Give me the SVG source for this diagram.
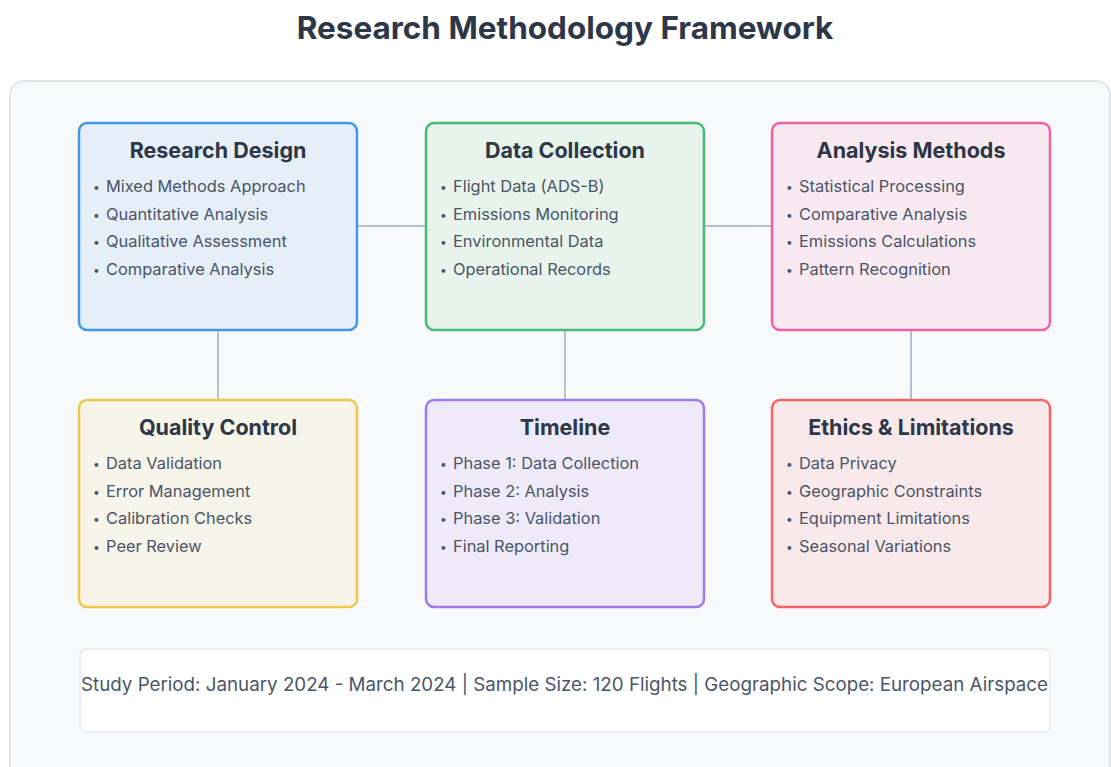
<svg xmlns="http://www.w3.org/2000/svg" width="1111" height="767" viewBox="0 0 1111 767">
  <style>
    .title { font-family: Inter, "Noto Sans", "DejaVu Sans", sans-serif; font-weight: 700; font-size: 31.5px; fill: #2d3748; }
    .node-title { font-family: Inter, "Noto Sans", "DejaVu Sans", sans-serif; font-weight: 700; font-size: 21.5px; fill: #2d3748; text-anchor: middle; }
    .item { font-family: Inter, "Noto Sans", "DejaVu Sans", sans-serif; font-size: 16.4px; fill: #4a5568; }
    .bullet { font-family: Inter, "Noto Sans", "DejaVu Sans", sans-serif; font-size: 12px; fill: #4a5568; }
    .footer { font-family: Inter, "Noto Sans", "DejaVu Sans", sans-serif; font-size: 18.5px; fill: #4a5568; }
    .link { stroke: #a0aec0; stroke-width: 1.5; fill: none; }
    .box { stroke-width: 2.5; }
  </style>

  <rect width="1111" height="767" fill="#ffffff"/>
  <!-- panel -->
  <rect x="10" y="81" width="1100" height="720" rx="14" fill="#f7f9fb" stroke="#e2e6ec" stroke-width="2"/>

  <text class="title" x="565" y="39" text-anchor="middle">Research Methodology Framework</text>

  <!-- connectors -->
  <g id="connectors">
    <line class="link" x1="357" y1="226" x2="426" y2="226"/>
    <line class="link" x1="704" y1="226" x2="772" y2="226"/>
    <line class="link" x1="218" y1="330" x2="218" y2="400"/>
    <line class="link" x1="565" y1="330" x2="565" y2="400"/>
    <line class="link" x1="911" y1="330" x2="911" y2="400"/>
  </g>

  <g id="research-design">
    <rect class="box" x="79" y="123" width="278" height="207" rx="8" fill="#e6eef8" stroke="#4299e1"/>
    <text class="node-title" x="218" y="158">Research Design</text>
    <text class="bullet" x="93" y="191">•</text><text class="item" x="106" y="192">Mixed Methods Approach</text>
    <text class="bullet" x="93" y="219">•</text><text class="item" x="106" y="220">Quantitative Analysis</text>
    <text class="bullet" x="93" y="246">•</text><text class="item" x="106" y="247">Qualitative Assessment</text>
    <text class="bullet" x="93" y="274">•</text><text class="item" x="106" y="275">Comparative Analysis</text>
  </g>

  <g id="data-collection">
    <rect class="box" x="426" y="123" width="278" height="207" rx="8" fill="#e8f3ec" stroke="#48bb78"/>
    <text class="node-title" x="565" y="158">Data Collection</text>
    <text class="bullet" x="440" y="191">•</text><text class="item" x="453" y="192">Flight Data (ADS-B)</text>
    <text class="bullet" x="440" y="219">•</text><text class="item" x="453" y="220">Emissions Monitoring</text>
    <text class="bullet" x="440" y="246">•</text><text class="item" x="453" y="247">Environmental Data</text>
    <text class="bullet" x="440" y="274">•</text><text class="item" x="453" y="275">Operational Records</text>
  </g>

  <g id="analysis-methods">
    <rect class="box" x="772" y="123" width="278" height="207" rx="8" fill="#f9eaf1" stroke="#ed64a6"/>
    <text class="node-title" x="911" y="158">Analysis Methods</text>
    <text class="bullet" x="786" y="191">•</text><text class="item" x="799" y="192">Statistical Processing</text>
    <text class="bullet" x="786" y="219">•</text><text class="item" x="799" y="220">Comparative Analysis</text>
    <text class="bullet" x="786" y="246">•</text><text class="item" x="799" y="247">Emissions Calculations</text>
    <text class="bullet" x="786" y="274">•</text><text class="item" x="799" y="275">Pattern Recognition</text>
  </g>

  <g id="quality-control">
    <rect class="box" x="79" y="400" width="278" height="207" rx="8" fill="#f7f4ea" stroke="#ecc94b"/>
    <text class="node-title" x="218" y="435">Quality Control</text>
    <text class="bullet" x="93" y="468">•</text><text class="item" x="106" y="469">Data Validation</text>
    <text class="bullet" x="93" y="496">•</text><text class="item" x="106" y="497">Error Management</text>
    <text class="bullet" x="93" y="523">•</text><text class="item" x="106" y="524">Calibration Checks</text>
    <text class="bullet" x="93" y="551">•</text><text class="item" x="106" y="552">Peer Review</text>
  </g>

  <g id="timeline">
    <rect class="box" x="426" y="400" width="278" height="207" rx="8" fill="#efeaf9" stroke="#9f7aea"/>
    <text class="node-title" x="565" y="435">Timeline</text>
    <text class="bullet" x="440" y="468">•</text><text class="item" x="453" y="469">Phase 1: Data Collection</text>
    <text class="bullet" x="440" y="496">•</text><text class="item" x="453" y="497">Phase 2: Analysis</text>
    <text class="bullet" x="440" y="523">•</text><text class="item" x="453" y="524">Phase 3: Validation</text>
    <text class="bullet" x="440" y="551">•</text><text class="item" x="453" y="552">Final Reporting</text>
  </g>

  <g id="ethics-limitations">
    <rect class="box" x="772" y="400" width="278" height="207" rx="8" fill="#f9e9ea" stroke="#f56565"/>
    <text class="node-title" x="911" y="435">Ethics &amp; Limitations</text>
    <text class="bullet" x="786" y="468">•</text><text class="item" x="799" y="469">Data Privacy</text>
    <text class="bullet" x="786" y="496">•</text><text class="item" x="799" y="497">Geographic Constraints</text>
    <text class="bullet" x="786" y="523">•</text><text class="item" x="799" y="524">Equipment Limitations</text>
    <text class="bullet" x="786" y="551">•</text><text class="item" x="799" y="552">Seasonal Variations</text>
  </g>

  <g id="study-summary">
    <rect x="80" y="649" width="970" height="83" rx="6" fill="#ffffff" stroke="#e6e9ef" stroke-width="1.5"/>
    <text class="footer" x="81" y="691" textLength="967" lengthAdjust="spacingAndGlyphs">Study Period: January 2024 - March 2024 | Sample Size: 120 Flights | Geographic Scope: European Airspace</text>
  </g>
</svg>
